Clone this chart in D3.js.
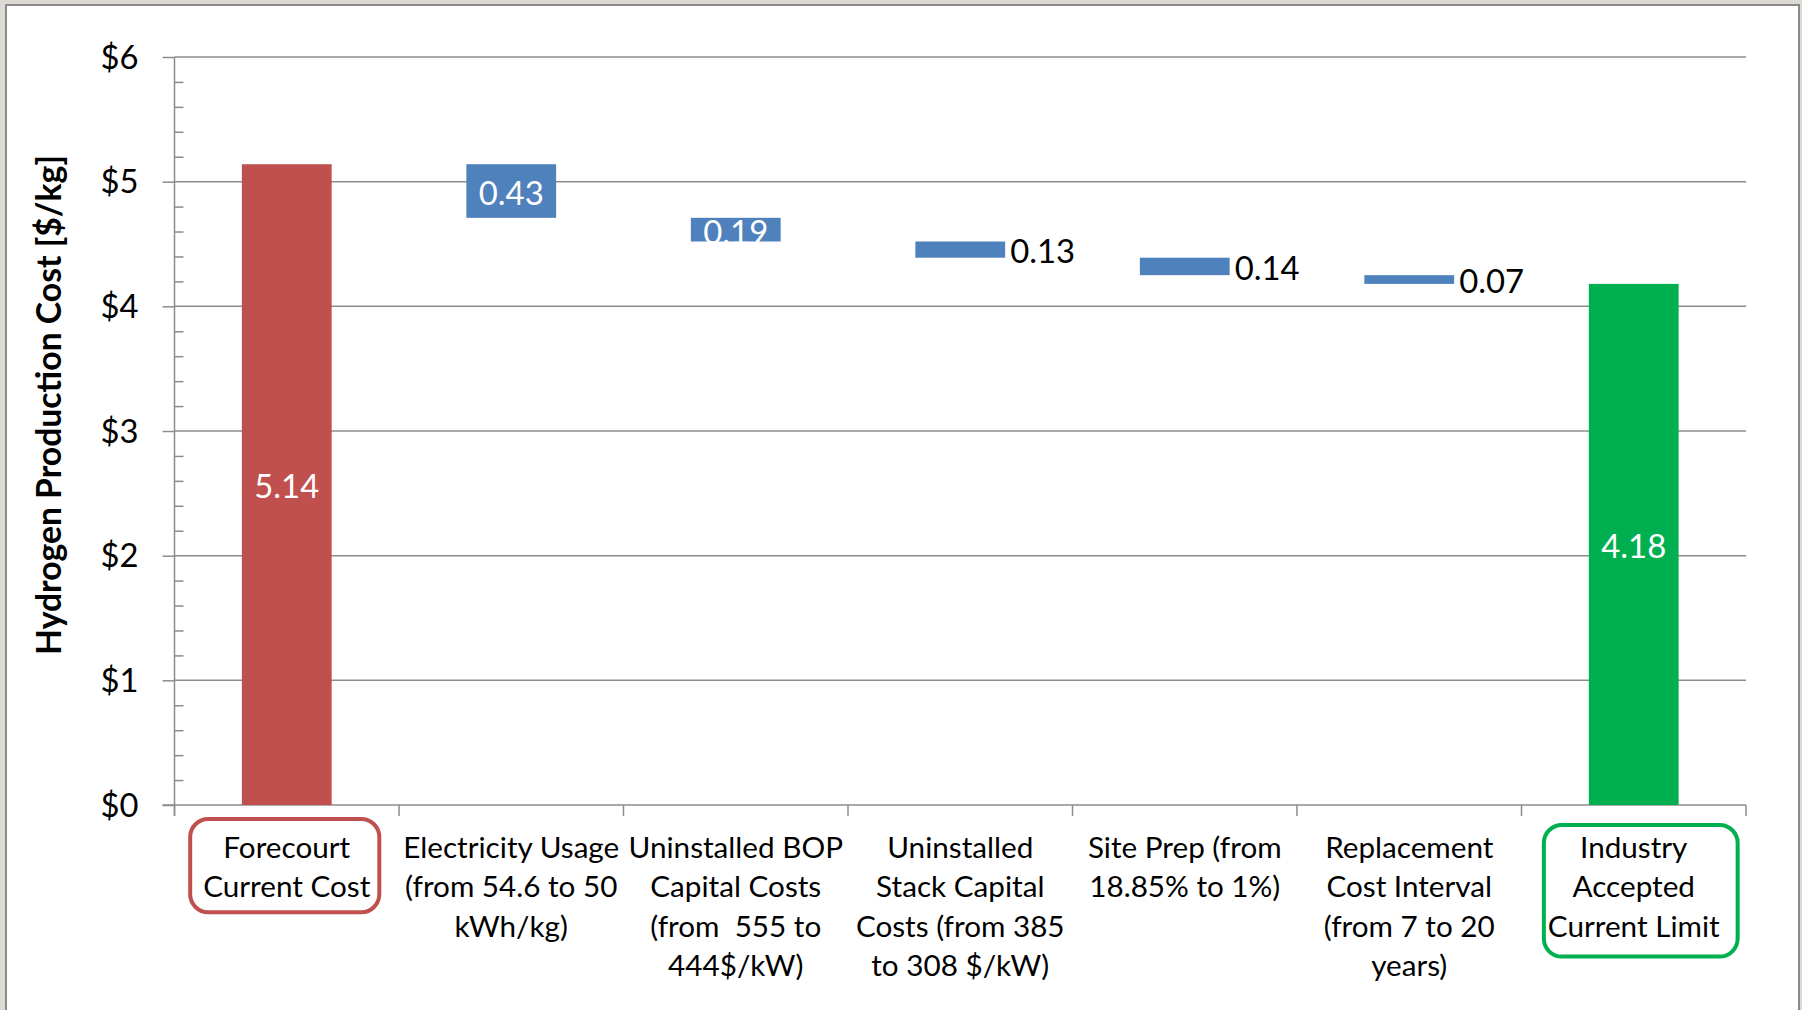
<!DOCTYPE html>
<html>
<head>
<meta charset="utf-8">
<script src="https://cdn.jsdelivr.net/npm/d3@7/dist/d3.min.js"></script>
<style>
  html, body { margin: 0; padding: 0; background: #dcdad2; }
  svg { display: block; }
  text { white-space: pre; }
</style>
</head>
<body>
<svg id="chart" width="1802" height="1010"></svg>
<script>
// ---------- data ----------
const categories = [
  "Forecourt\nCurrent Cost",
  "Electricity Usage\n(from 54.6 to 50\nkWh/kg)",
  "Uninstalled BOP\nCapital Costs\n(from  555 to\n444$/kW)",
  "Uninstalled\nStack Capital\nCosts (from 385\nto 308 $/kW)",
  "Site Prep (from\n18.85% to 1%)",
  "Replacement\nCost Interval\n(from 7 to 20\nyears)",
  "Industry\nAccepted\nCurrent Limit"
];
const values = [5.14, 0.43, 0.19, 0.13, 0.14, 0.07, 4.18];
const kinds = ["start", "decrease", "decrease", "decrease", "decrease", "decrease", "end"];
const labelPlacement = ["inside", "inside", "inside", "right", "right", "right", "inside"];
const highlighted = ["start", "end"];
const yTicks = [0, 1, 2, 3, 4, 5, 6];
const yTickLabels = ["$0", "$1", "$2", "$3", "$4", "$5", "$6"];
const yTitle = "Hydrogen Production Cost [$/kg]";

// ---------- styles ----------
const FONT = "Lato, 'Open Sans', sans-serif";
const COLORS = { start: "#C0504D", decrease: "#4F81BD", end: "#00B050" };
const BOX_COLORS = { start: "#C0504D", end: "#00B050" };
const BOX_SHIFT = { start: { dx: -2, top: -39, bottom: 15 }, end: { dx: 7, top: -33, bottom: 20 } };
const GRID = "#8c8c8c";

const svg = d3.select("#chart");

// frame
svg.append("rect").attr("x", 0).attr("y", 0).attr("width", 1802).attr("height", 1010).attr("fill", "#dcdad2");
svg.append("rect").attr("x", 6).attr("y", 5).attr("width", 1793).attr("height", 1020)
  .attr("fill", "#ffffff").attr("stroke", "#8a8a8a").attr("stroke-width", 2);

function fitSize(sample, target, weight) {
  const t = svg.append("text").attr("font-family", FONT).attr("font-size", 100)
    .attr("font-weight", weight || "normal").text(sample);
  const w = t.node().getComputedTextLength();
  t.remove();
  return 100 * target / w;
}
const tickFs = fitSize("$6", 38);
const dataFs = fitSize("0.43", 65);
const catFs = fitSize("Electricity Usage", 216);
const titleFs = fitSize(yTitle, 500, "bold");

// ---------- scales ----------
const plot = { left: 174.5, right: 1746, top: 57, bottom: 805 };
const y = d3.scaleLinear().domain([0, 6]).range([plot.bottom, plot.top]);
const x = d3.scaleBand().domain(d3.range(categories.length))
  .range([plot.left, plot.right]).paddingInner(0.6).paddingOuter(0.3);
const step = x.step();

// waterfall computation
let running = 0;
const bars = values.map((v, i) => {
  let lo, hi;
  if (kinds[i] === "decrease") { hi = running; lo = running - v; running = lo; }
  else { lo = 0; hi = v; running = v; }
  return { i, v, lo, hi, kind: kinds[i], place: labelPlacement[i] };
});

// ---------- gridlines & axis ----------
svg.append("g").selectAll("line").data(yTicks.filter(d => d > 0)).join("line")
  .attr("x1", plot.left).attr("x2", plot.right)
  .attr("y1", d => y(d)).attr("y2", d => y(d))
  .attr("stroke", GRID).attr("stroke-width", 1.5);

// major ticks (outside) with labels
const yAxis = d3.axisLeft(y).tickValues(yTicks).tickSize(12).tickPadding(24)
  .tickFormat((d, i) => yTickLabels[i]);
const ya = svg.append("g").attr("transform", `translate(${plot.left},0)`).call(yAxis);
ya.select(".domain").remove();
ya.selectAll(".tick line").attr("stroke", GRID).attr("stroke-width", 1.5);
ya.selectAll(".tick text").attr("font-family", FONT).attr("font-size", tickFs)
  .attr("fill", "#000").attr("dy", "0.34em");

// minor ticks (inside)
const minor = d3.range(0, 6.001, 0.2).filter(d => Math.abs(d - Math.round(d)) > 1e-6);
const yMinor = d3.axisLeft(y).tickValues(minor).tickSize(-9).tickFormat("");
const ym = svg.append("g").attr("transform", `translate(${plot.left},0)`).call(yMinor);
ym.select(".domain").remove();
ym.selectAll(".tick line").attr("stroke", GRID).attr("stroke-width", 1.5);

// axis lines
svg.append("line").attr("x1", plot.left).attr("x2", plot.left)
  .attr("y1", plot.top).attr("y2", plot.bottom + 11).attr("stroke", GRID).attr("stroke-width", 1.5);
svg.append("line").attr("x1", plot.left - 12).attr("x2", plot.right)
  .attr("y1", plot.bottom).attr("y2", plot.bottom).attr("stroke", GRID).attr("stroke-width", 1.5);
// category boundary ticks
const bounds = d3.range(categories.length + 1).map(k => plot.left + k * step);
svg.append("g").selectAll("line").data(bounds).join("line")
  .attr("x1", d => d).attr("x2", d => d)
  .attr("y1", plot.bottom).attr("y2", plot.bottom + 11)
  .attr("stroke", GRID).attr("stroke-width", 1.5);

// ---------- bars ----------
svg.append("g").selectAll("rect").data(bars).join("rect")
  .attr("x", d => x(d.i)).attr("width", x.bandwidth())
  .attr("y", d => y(d.hi)).attr("height", d => y(d.lo) - y(d.hi))
  .attr("fill", d => COLORS[d.kind]);

// data labels
svg.append("g").selectAll("text").data(bars).join("text")
  .attr("font-family", FONT).attr("font-size", dataFs)
  .attr("x", d => d.place === "inside" ? x(d.i) + x.bandwidth() / 2 : x(d.i) + x.bandwidth() + 5)
  .attr("y", d => (y(d.lo) + y(d.hi)) / 2 + 2)
  .attr("dy", "0.36em")
  .attr("text-anchor", d => d.place === "inside" ? "middle" : "start")
  .attr("fill", d => d.place === "inside" ? "#ffffff" : "#000000")
  .text(d => d.v.toFixed(2));

// ---------- category labels ----------
const firstBaseline = 858, lineStep = 39.3;
categories.forEach((c, i) => {
  const cx = x(i) + x.bandwidth() / 2;
  const lines = c.split("\n");
  const t = svg.append("text").attr("font-family", FONT).attr("font-size", catFs)
    .attr("text-anchor", "middle").attr("fill", "#000");
  lines.forEach((ln, k) => {
    t.append("tspan").attr("x", cx).attr("y", firstBaseline + k * lineStep).text(ln);
  });
  if (highlighted.includes(kinds[i])) {
    let maxW = 0;
    t.selectAll("tspan").each(function () { maxW = Math.max(maxW, this.getComputedTextLength()); });
    const s = BOX_SHIFT[kinds[i]];
    const top = firstBaseline + s.top;
    const bottom = firstBaseline + (lines.length - 1) * lineStep + s.bottom;
    svg.append("rect").attr("x", cx + s.dx - maxW / 2 - 11).attr("width", maxW + 22)
      .attr("y", top).attr("height", bottom - top)
      .attr("rx", 18).attr("ry", 18)
      .attr("fill", "none").attr("stroke", BOX_COLORS[kinds[i]]).attr("stroke-width", 4);
  }
});

// ---------- y title ----------
svg.append("text")
  .attr("transform", `translate(61,405) rotate(-90)`)
  .attr("text-anchor", "middle")
  .attr("font-family", FONT).attr("font-weight", "bold").attr("font-size", titleFs)
  .attr("fill", "#000")
  .text(yTitle);
</script>
</body>
</html>
